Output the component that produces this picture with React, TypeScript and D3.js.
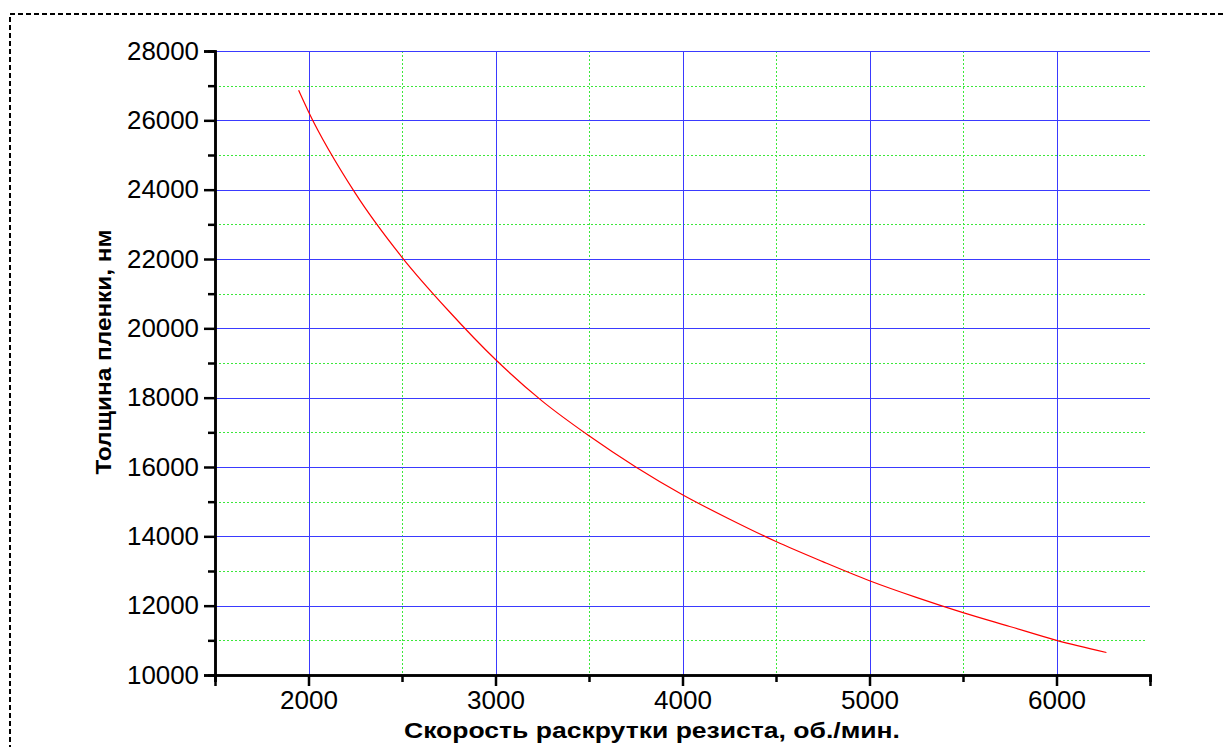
import React, { useRef, useEffect } from "react";
import * as d3 from "d3";

// Data
const speeds = [1947, 2000, 2250, 2500, 2750, 3000, 3250, 3500, 3750, 4000, 4250, 4500, 4750, 5000, 5250, 5500, 5750, 6000, 6267];
const thickness = [26870, 26250, 23900, 22050, 20500, 19100, 17900, 16900, 16000, 15200, 14500, 13850, 13270, 12720, 12240, 11800, 11400, 11000, 10650];

const xMajorTicks = [2000, 3000, 4000, 5000, 6000];
const xMinorTicks = [1500, 2500, 3500, 4500, 5500, 6500];
const yMajorTicks = [10000, 12000, 14000, 16000, 18000, 20000, 22000, 24000, 26000, 28000];
const yMinorTicks = [11000, 13000, 15000, 17000, 19000, 21000, 23000, 25000, 27000];

const xTitle = "Скорость раскрутки резиста, об./мин.";
const yTitle = "Толщина пленки, нм";

const App = () => {
  const svgRef = useRef<SVGSVGElement>(null);

  useEffect(() => {
    const dims = { width: 1223, height: 747, left: 215, right: 1150, top: 51, bottom: 675 };

    const svg = d3.select(svgRef.current).attr("width", dims.width).attr("height", dims.height);
    svg.selectAll("*").remove();

    const font = "'Liberation Sans', Arial, sans-serif";

    svg.append("rect").attr("width", dims.width).attr("height", dims.height).attr("fill", "#ffffff");

    // dashed frame
    svg
      .append("rect")
      .attr("x", 10)
      .attr("y", 14)
      .attr("width", 1300)
      .attr("height", 800)
      .attr("fill", "none")
      .attr("stroke", "#000")
      .attr("stroke-width", 2)
      .attr("stroke-dasharray", "5,3");

    // Scales
    const xScale = d3.scaleLinear().domain([1500, 6500]).range([dims.left, dims.right]);
    const yScale = d3.scaleLinear().domain([10000, 28000]).range([dims.bottom, dims.top]);

    const grid = svg.append("g").attr("shape-rendering", "crispEdges");

    // minor grid (green dotted)
    grid
      .selectAll(".gx-minor")
      .data(xMinorTicks.filter((d) => d > 1500 && d < 6500))
      .join("line")
      .attr("x1", (d) => Math.round(xScale(d)) + 0.5)
      .attr("x2", (d) => Math.round(xScale(d)) + 0.5)
      .attr("y1", dims.top)
      .attr("y2", dims.bottom)
      .attr("stroke", "#3ce83c")
      .attr("stroke-width", 1)
      .attr("stroke-dasharray", "2,2");

    grid
      .selectAll(".gy-minor")
      .data(yMinorTicks)
      .join("line")
      .attr("x1", dims.left)
      .attr("x2", dims.right - 3)
      .attr("y1", (d) => Math.round(yScale(d)) + 0.5)
      .attr("y2", (d) => Math.round(yScale(d)) + 0.5)
      .attr("stroke", "#3ce83c")
      .attr("stroke-width", 1)
      .attr("stroke-dasharray", "2,2");

    // major grid (blue)
    grid
      .selectAll(".gx-major")
      .data(xMajorTicks)
      .join("line")
      .attr("x1", (d) => Math.round(xScale(d)) + 0.5)
      .attr("x2", (d) => Math.round(xScale(d)) + 0.5)
      .attr("y1", dims.top)
      .attr("y2", dims.bottom)
      .attr("stroke", "#3a3aff")
      .attr("stroke-width", 1);

    grid
      .selectAll(".gy-major")
      .data(yMajorTicks.filter((d) => d > 10000))
      .join("line")
      .attr("x1", dims.left)
      .attr("x2", dims.right)
      .attr("y1", (d) => Math.round(yScale(d)) + 0.5)
      .attr("y2", (d) => Math.round(yScale(d)) + 0.5)
      .attr("stroke", "#3a3aff")
      .attr("stroke-width", 1);

    // Curve
    const points = speeds.map((s, i) => [s, thickness[i]] as [number, number]);
    const line = d3
      .line<[number, number]>()
      .x((d) => xScale(d[0]))
      .y((d) => yScale(d[1]))
      .curve(d3.curveMonotoneX);

    svg
      .append("path")
      .datum(points)
      .attr("d", line)
      .attr("fill", "none")
      .attr("stroke", "#ff0000")
      .attr("stroke-width", 1.2);

    // Axes
    const yAxis = d3.axisLeft(yScale).tickValues(yMajorTicks).tickSize(11).tickPadding(5).tickFormat((d) => `${d}`);
    const yG = svg.append("g").attr("transform", `translate(${dims.left},0)`).call(yAxis);
    const yMinor = d3.axisLeft(yScale).tickValues(yMinorTicks).tickSize(7).tickFormat(() => "");
    svg.append("g").attr("transform", `translate(${dims.left},0)`).call(yMinor);

    const xAxis = d3.axisBottom(xScale).tickValues(xMajorTicks).tickSize(11).tickPadding(5).tickFormat((d) => `${d}`);
    const xG = svg.append("g").attr("transform", `translate(0,${dims.bottom})`).call(xAxis);
    const xMinor = d3.axisBottom(xScale).tickValues(xMinorTicks).tickSize(7).tickFormat(() => "");
    svg.append("g").attr("transform", `translate(0,${dims.bottom})`).call(xMinor);

    svg.selectAll(".domain").attr("stroke", "#000").attr("stroke-width", 2.5);
    svg.selectAll(".tick line").attr("stroke", "#000").attr("stroke-width", 2.5);
    [yG, xG].forEach((g) =>
      g
        .selectAll(".tick text")
        .attr("fill", "#000")
        .style("font-family", font)
        .style("font-size", "25px")
        .attr("textLength", (d: any) => (String(d).length === 5 ? 72 : 58))
        .attr("lengthAdjust", "spacingAndGlyphs")
    );

    // Titles
    svg
      .append("text")
      .attr("x", 652)
      .attr("y", 738)
      .attr("text-anchor", "middle")
      .attr("textLength", 496)
      .attr("lengthAdjust", "spacingAndGlyphs")
      .style("font-family", font)
      .style("font-weight", "bold")
      .style("font-size", "22px")
      .text(xTitle);

    svg
      .append("text")
      .attr("transform", `translate(111,352) rotate(-90)`)
      .attr("text-anchor", "middle")
      .attr("textLength", 245)
      .attr("lengthAdjust", "spacingAndGlyphs")
      .style("font-family", font)
      .style("font-weight", "bold")
      .style("font-size", "22px")
      .text(yTitle);
  }, []);

  return (
    <div style={{ position: "absolute", left: 0, top: 0 }}>
      <svg ref={svgRef} style={{ display: "block" }} />
    </div>
  );
};

export default App;
